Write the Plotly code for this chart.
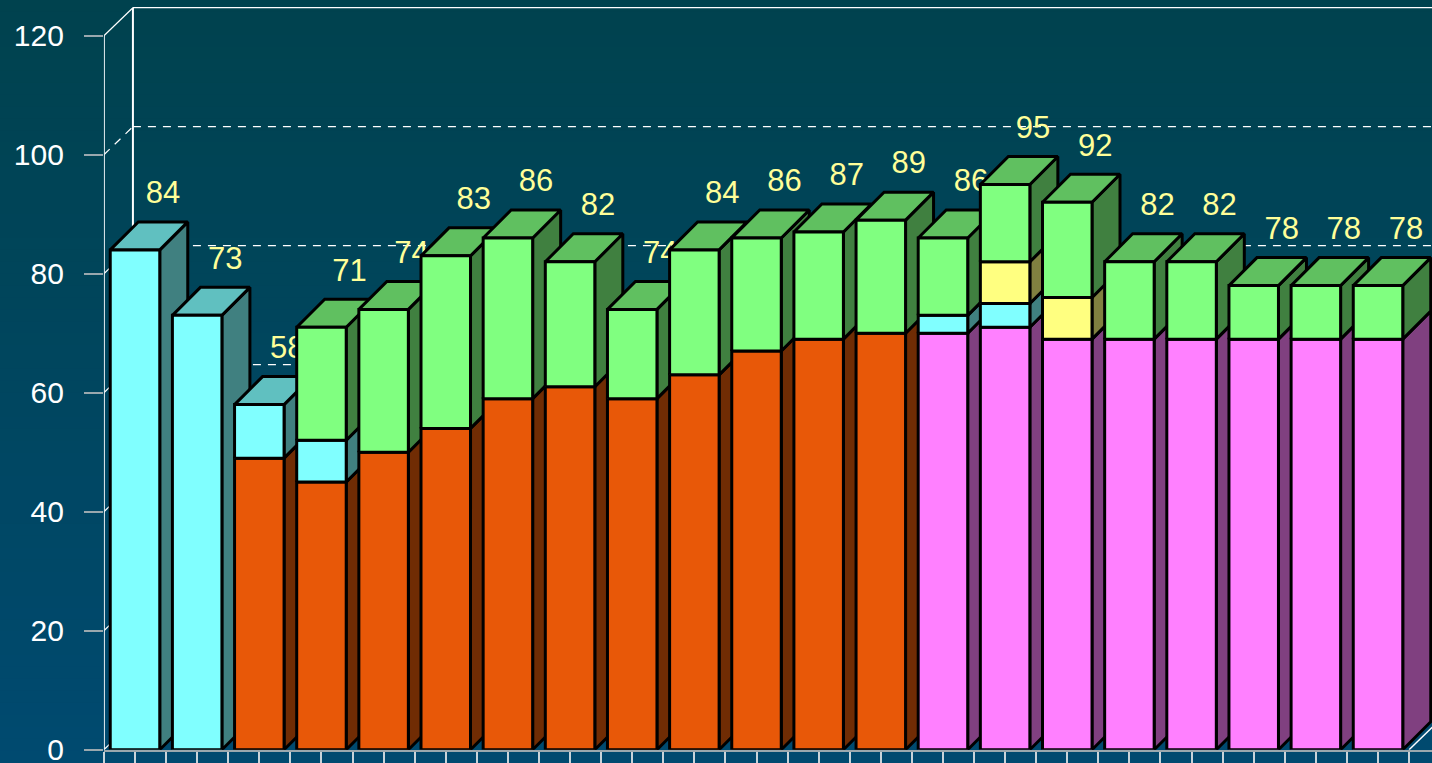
import plotly.graph_objects as go

# Series values, bottom of the stack first (0 = segment absent)
orange = [0, 0, 49, 45, 50, 54, 59, 61, 59, 63, 67, 69, 70, 0, 0, 0, 0, 0, 0, 0, 0]
pink   = [0, 0, 0, 0, 0, 0, 0, 0, 0, 0, 0, 0, 0, 70, 71, 69, 69, 69, 69, 69, 69]
cyan   = [84, 73, 9, 7, 0, 0, 0, 0, 0, 0, 0, 0, 0, 3, 4, 0, 0, 0, 0, 0, 0]
yellow = [0, 0, 0, 0, 0, 0, 0, 0, 0, 0, 0, 0, 0, 0, 7, 7, 0, 0, 0, 0, 0]
green  = [0, 0, 0, 19, 24, 29, 27, 21, 15, 21, 19, 18, 19, 13, 13, 16, 13, 13, 9, 9, 9]
y_ticks = [0, 20, 40, 60, 80, 100, 120]

W, H = 1432, 763
PX_X = 62.15          # pixels per category
PX_Y = 5.95           # pixels per value unit
X0_PX, Y0_PX = 135.0, 749.7
DX = 28 / PX_X        # depth of the 3D bars
DY = 28 / PX_Y
WALL_DX = 29 / PX_X
BAR_W = 49.5 / PX_X
LABEL_DY = 54.5 / PX_Y

series = [
    (orange, "#E85808", "#702C04", "#74300A"),
    (pink, "#FF80FF", "#804080", "#C060C0"),
    (cyan, "#80FFFF", "#408080", "#60C0C0"),
    (yellow, "#FFFF80", "#808040", "#C0C060"),
    (green, "#80FF80", "#408040", "#60C060"),
]

xmin = -0.5
xmax = (W - X0_PX) / PX_X
ymax = Y0_PX / PX_Y

fig = go.Figure()


def poly(xs, ys, fill):
    fig.add_trace(go.Scatter(
        x=xs + xs[:1], y=ys + ys[:1], mode="lines", fill="toself", fillcolor=fill,
        line=dict(color="#000000", width=3), hoverinfo="skip", showlegend=False))


def wire(xs, ys, dash="solid", width=1.2, color="#FFFFFF"):
    fig.add_trace(go.Scatter(
        x=xs, y=ys, mode="lines", line=dict(color=color, width=width, dash=dash),
        hoverinfo="skip", showlegend=False))


# Back wall: gridlines and their diagonals on the side wall
wall_x = xmin + WALL_DX
for v in y_ticks[1:]:
    dash = "solid" if v == y_ticks[-1] else "8px,7px"
    wire([wall_x, xmax], [v + DY, v + DY], dash=dash)
    wire([xmin, wall_x], [v, v + DY], dash=dash)
wire([wall_x, wall_x], [DY, y_ticks[-1] + DY], width=2)
wire([xmin, xmin], [0, y_ticks[-1]], width=2, color="#E4ECF0")
wire([xmin, wall_x], [0, DY])
wire([20.5, 20.5 + WALL_DX], [0, DY], width=1.5)

# Bars, left to right, so later bars hide earlier value labels
for i in range(len(green)):
    total = sum(s[0][i] for s in series)
    fig.add_trace(go.Scatter(
        x=[i + DX], y=[total + LABEL_DY], mode="text", text=[str(total)],
        textposition="middle center",
        textfont=dict(family="Liberation Sans", size=31, color="#FFFF99"),
        hoverinfo="skip", showlegend=False))
    x0, x1 = i - BAR_W / 2, i + BAR_W / 2
    base = 0
    segs = [(s, base_c, side, top) for s, base_c, side, top in series if s[i] > 0]
    for n, (s, front, side, top) in enumerate(segs):
        y0, y1 = base, base + s[i]
        poly([x1, x1 + DX, x1 + DX, x1], [y0, y0 + DY, y1 + DY, y1], side)
        if n == len(segs) - 1:
            poly([x0, x1, x1 + DX, x0 + DX], [y1, y1, y1 + DY, y1 + DY], top)
        poly([x0, x1, x1, x0], [y0, y0, y1, y1], front)
        base = y1

# Background gradient
TOP = (0, 66, 78)
BOT = (0, 74, 112)
N = 64
bands = []
for k in range(N):
    t = k / (N - 1)
    c = tuple(round(a + (b - a) * t) for a, b in zip(TOP, BOT))
    bands.append(dict(type="rect", xref="paper", yref="paper", layer="below",
                      x0=0, x1=1, y0=1 - (k + 1) / N, y1=1 - k / N + 0.001,
                      fillcolor=f"rgb{c}", line=dict(width=0)))

fig.update_layout(
    width=W, height=H, margin=dict(l=0, r=0, t=0, b=0),
    paper_bgcolor="#004860", plot_bgcolor="rgba(0,0,0,0)",
    showlegend=False, shapes=bands,
    xaxis=dict(domain=[(X0_PX - 0.5 * PX_X) / W, 1], range=[xmin, xmax], automargin=False,
               tick0=-0.5, dtick=0.5, ticks="outside", ticklen=16, tickwidth=2,
               tickcolor="#C8D4DA", showticklabels=False, showgrid=False,
               zeroline=False, showline=True, linecolor="#9AA8AE", linewidth=2),
    yaxis=dict(domain=[(H - Y0_PX) / H, 1], range=[0, ymax], automargin=False,
               tickvals=y_ticks, ticktext=[str(v) for v in y_ticks],
               ticks="outside", ticklen=19, tickwidth=2, tickcolor="#9AA8AE",
               ticklabelstandoff=14, ticklabeloverflow="allow",
               tickfont=dict(family="Liberation Sans", size=30, color="#FFFFFF"),
               showgrid=False, zeroline=False, showline=False),
)

fig.write_html("out.html", config={"displayModeBar": False},
               post_script="document.body.style.margin='0';")
